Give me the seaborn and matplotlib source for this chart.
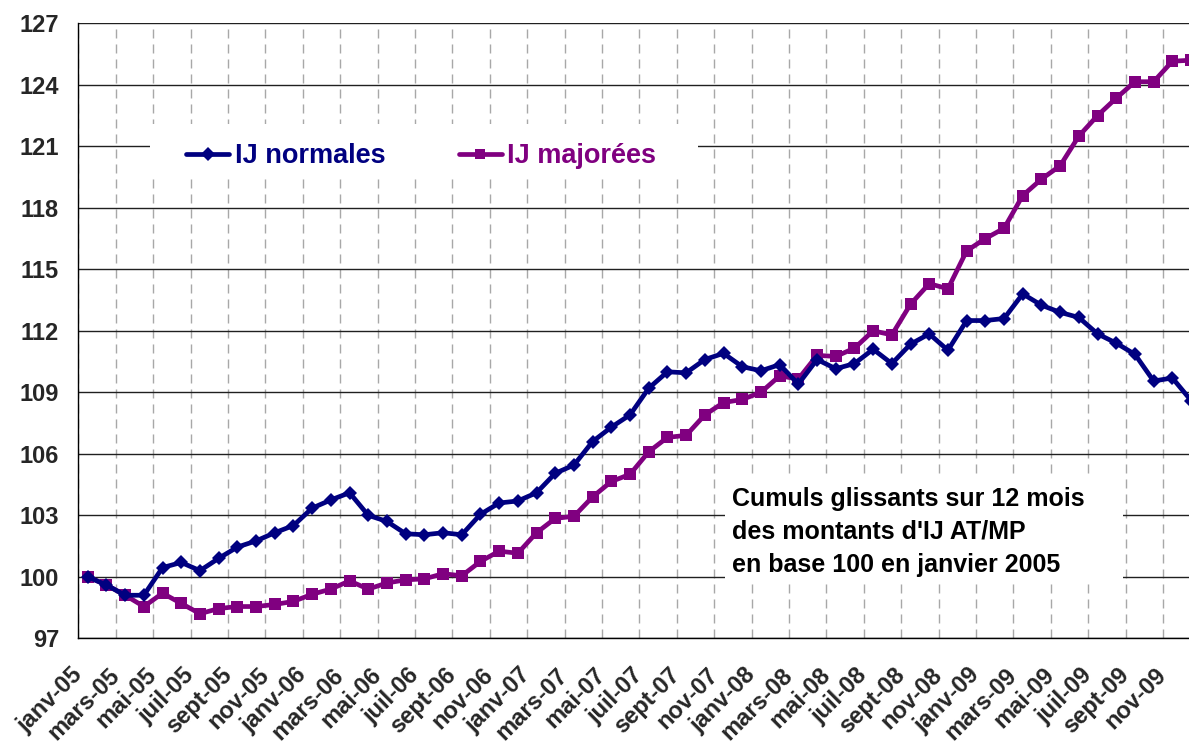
import numpy as np
import pandas as pd
import matplotlib
matplotlib.use("Agg")
import matplotlib.pyplot as plt
from matplotlib.lines import Line2D
from matplotlib.patches import Rectangle
import seaborn as sns

# Données : cumuls glissants sur 12 mois, base 100 en janvier 2005
mois = ['janv', 'févr', 'mars', 'avr', 'mai', 'juin',
        'juil', 'août', 'sept', 'oct', 'nov', 'déc']
annees = ['05', '06', '07', '08', '09']
periodes = [m + '-' + a for a in annees for m in mois]

ij_normales = [100.0, 99.6, 99.1, 99.1, 100.45, 100.7, 100.3, 100.9, 101.45, 101.75, 102.15, 102.5,
               103.35, 103.75, 104.1, 103.0, 102.7, 102.1, 102.05, 102.15, 102.05, 103.05, 103.6, 103.7,
               104.1, 105.05, 105.45, 106.6, 107.3, 107.9, 109.2, 110.0, 109.95, 110.6, 110.9, 110.25,
               110.05, 110.35, 109.4, 110.6, 110.15, 110.4, 111.1, 110.4, 111.35, 111.85, 111.05, 112.5,
               112.5, 112.6, 113.8, 113.25, 112.9, 112.65, 111.85, 111.4, 110.85, 109.55, 109.7, 108.6]

ij_majorees = [100.0, 99.6, 99.1, 98.55, 99.2, 98.7, 98.2, 98.45, 98.55, 98.55, 98.65, 98.8,
               99.15, 99.4, 99.8, 99.4, 99.7, 99.85, 99.9, 100.15, 100.05, 100.75, 101.25, 101.15,
               102.15, 102.85, 102.95, 103.9, 104.65, 105.0, 106.1, 106.8, 106.9, 107.9, 108.5, 108.65,
               109.0, 109.8, 109.65, 110.8, 110.75, 111.15, 112.0, 111.8, 113.3, 114.3, 114.05, 115.9,
               116.5, 117.0, 118.6, 119.4, 120.05, 121.5, 122.5, 123.35, 124.15, 124.15, 125.15, 125.2]

y_ticks = list(range(97, 128, 3))

df = pd.DataFrame({'periode': periodes,
                   'rang': np.arange(len(periodes)),
                   'IJ normales': ij_normales,
                   'IJ majorées': ij_majorees})

bleu = '#000080'
violet = '#800080'

sns.set_style('white')
plt.rcParams['font.family'] = ['Liberation Sans', 'DejaVu Sans']
plt.rcParams['font.weight'] = 'bold'

W, H = 1189, 747
fig = plt.figure(figsize=(W / 100, H / 100), dpi=100)
ax = fig.add_axes([78.4 / W, (H - 638.3) / H, 1122 / W, 615 / H])

sns.lineplot(data=df, x='rang', y='IJ normales', color=bleu, marker='D', markersize=7.2,
             markeredgewidth=0, linewidth=3.4, ax=ax, zorder=3)
sns.lineplot(data=df, x='rang', y='IJ majorées', color=violet, marker='s', markersize=8.5,
             markeredgewidth=0, linewidth=3.4, ax=ax, zorder=2)

ax.set_xlim(-0.5, 59.5)
ax.set_ylim(97, 127)
ax.set_yticks(y_ticks)
ax.set_yticklabels([str(v) for v in y_ticks], fontsize=17, fontweight='bold')

pos = [i - 0.5 for i in range(0, 60, 2)] + [59.5]
ax.set_xticks(pos)
ax.set_xticklabels(periodes[::2] + [''], fontsize=17, fontweight='bold')
for lab in ax.get_xticklabels():
    lab.set_rotation(45)
    lab.set_ha('right')
    lab.set_va('center')
    lab.set_rotation_mode('anchor')

ax.set_xlabel('')
ax.set_ylabel('')
ax.set_axisbelow(True)
ax.grid(axis='y', color='#202020', linewidth=1, linestyle='-')
ax.grid(axis='x', color='#a8a8a8', linewidth=1, linestyle=(0, (6.5, 4.3)))
ax.tick_params(axis='y', direction='out', length=5, width=1, color='black', pad=9)
ax.tick_params(axis='x', direction='out', length=5, width=1, color='#808080', pad=19)
for s in ['top', 'right']:
    ax.spines[s].set_visible(False)
for s in ['left', 'bottom']:
    ax.spines[s].set_color('black')
    ax.spines[s].set_linewidth(1)

# fond blanc de la légende et du cartouche
ax.add_patch(Rectangle((150 / W, 1 - 174 / H), 548 / W, 50 / H, transform=fig.transFigure,
                       facecolor='white', edgecolor='none', zorder=1))
ax.add_patch(Rectangle((725 / W, 1 - 582 / H), 398 / W, 106 / H, transform=fig.transFigure,
                       facecolor='white', edgecolor='none', zorder=1))

poignees = [Line2D([], [], color=bleu, marker='D', markersize=7, linewidth=3.4, markeredgewidth=0),
            Line2D([], [], color=violet, marker='s', markersize=7, linewidth=3.4, markeredgewidth=0)]
leg = ax.legend(poignees, ['IJ normales', 'IJ majorées'], ncol=2, frameon=False,
                loc='center left', bbox_to_anchor=(186 / W, 1 - 156 / H),
                bbox_transform=fig.transFigure, prop={'size': 19.5, 'weight': 'bold'},
                handlelength=1.6, handletextpad=0.2, columnspacing=2.7, borderpad=0,
                borderaxespad=0)
for t, c in zip(leg.get_texts(), [bleu, violet]):
    t.set_color(c)

fig.text(732 / W, 1 - 487 / H,
         "Cumuls glissants sur 12 mois\ndes montants d'IJ AT/MP\nen base 100 en janvier 2005",
         fontsize=18, fontweight='bold', color='black', ha='left', va='top', linespacing=1.47)

fig.savefig('out.png', dpi=100)
